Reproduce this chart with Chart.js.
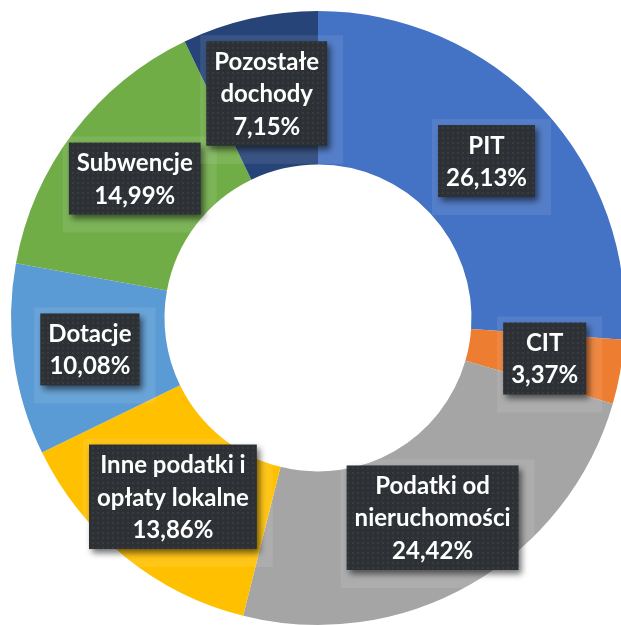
<!DOCTYPE html>
<html>
<head>
<meta charset="utf-8">
<script src="https://cdn.jsdelivr.net/npm/chart.js@4/dist/chart.umd.min.js"></script>
<style>
  html, body { margin: 0; padding: 0; background: #ffffff; overflow: hidden; width: 621px; height: 625px; }
  canvas { display: block; }
</style>
</head>
<body>
<canvas id="chart" width="636" height="636"></canvas>
<script>
// Struktura dochodów budżetu (udział procentowy)
const categories = ['PIT', 'CIT', 'Podatki od nieruchomości', 'Inne podatki i opłaty lokalne', 'Dotacje', 'Subwencje', 'Pozostałe dochody'];
const shares = [26.13, 3.37, 24.42, 13.86, 10.08, 14.99, 7.15];
const labelLines = [
  ['PIT'],
  ['CIT'],
  ['Podatki od', 'nieruchomości'],
  ['Inne podatki i', 'opłaty lokalne'],
  ['Dotacje'],
  ['Subwencje'],
  ['Pozostałe', 'dochody']
];
const sliceColors = ['#4472C4', '#ED7D31', '#A5A5A5', '#FFC000', '#5B9BD5', '#70AD47', '#264478'];

// Dotted dark fill used for the label boxes
function makeDotPattern(ctx) {
  const tile = document.createElement('canvas');
  tile.width = 5; tile.height = 5;
  const t = tile.getContext('2d');
  t.fillStyle = '#2D3135';
  t.fillRect(0, 0, 5, 5);
  t.fillStyle = '#373C40';
  t.fillRect(2, 2, 2, 2);
  return ctx.createPattern(tile, 'repeat');
}

const formatShare = v => v.toFixed(2).replace('.', ',') + '%';

const boxLabels = {
  id: 'boxLabels',
  afterDatasetsDraw(chart) {
    const ctx = chart.ctx;
    const meta = chart.getDatasetMeta(0);
    const pattern = makeDotPattern(ctx);
    const fontSize = 24;
    const lineH = 32.5;
    const padX = 8;
    const padY = 3.5;
    ctx.save();
    ctx.font = 'bold ' + fontSize + 'px Lato, "Open Sans", sans-serif';
    meta.data.forEach((arc, i) => {
      const p = arc.tooltipPosition();
      const lines = labelLines[i].concat([formatShare(shares[i])]);
      const w = Math.max(...lines.map(l => ctx.measureText(l).width)) + padX * 2;
      const h = lines.length * lineH + padY * 2;
      const x = p.x - w / 2;
      const y = p.y - h / 2;

      // soft light halo behind the box
      ctx.fillStyle = 'rgba(255,255,255,0.09)';
      ctx.fillRect(x - 6, y - 6, w + 22, h + 24);

      // box with drop shadow
      ctx.save();
      ctx.shadowColor = 'rgba(0,0,0,0.55)';
      ctx.shadowBlur = 6;
      ctx.shadowOffsetX = 3;
      ctx.shadowOffsetY = 4;
      ctx.fillStyle = pattern;
      ctx.fillRect(x, y, w, h);
      ctx.restore();

      ctx.fillStyle = '#FFFFFF';
      ctx.textAlign = 'center';
      ctx.textBaseline = 'middle';
      lines.forEach((line, k) => {
        ctx.fillText(line, p.x, y + padY + lineH * (k + 0.5) + 1);
      });
    });
    ctx.restore();
  }
};

new Chart(document.getElementById('chart'), {
  type: 'doughnut',
  data: {
    labels: categories,
    datasets: [{
      data: shares,
      backgroundColor: sliceColors,
      borderWidth: 0
    }]
  },
  options: {
    responsive: false,
    devicePixelRatio: 1,
    animation: false,
    cutout: '50%',
    layout: { padding: 11 },
    plugins: {
      legend: { display: false },
      tooltip: { enabled: false }
    }
  },
  plugins: [boxLabels]
});
</script>
</body>
</html>
